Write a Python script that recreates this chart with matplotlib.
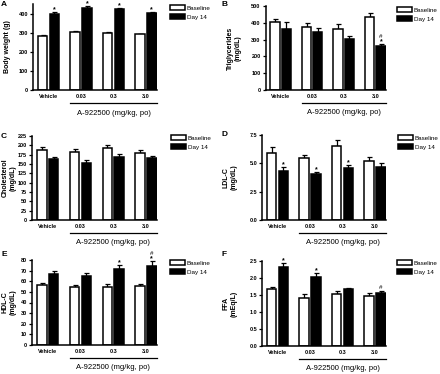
import matplotlib
matplotlib.use("Agg")
import matplotlib.pyplot as plt
import matplotlib.transforms as mtransforms
import numpy as np

plt.rcParams['font.family'] = ['Liberation Sans', 'DejaVu Sans']

groups = ["Vehicle", "0.03", "0.3", "3.0"]
series_names = ["Baseline", "Day 14"]
group_label = "A-922500 (mg/kg, po)"

# Panel A: Body weight
bw_base = [283, 302, 297, 291]
bw_base_err = [4, 5, 4, 4]
bw_d14 = [398, 430, 423, 402]
bw_d14_err = [10, 9, 7, 8]
bw_star = [True, True, True, True]
bw_hash = [False, False, False, False]

# Panel B: Triglycerides
tg_base = [407, 373, 363, 432]
tg_base_err = [15, 28, 28, 28]
tg_d14 = [362, 343, 301, 262]
tg_d14_err = [41, 24, 20, 12]
tg_star = [False, False, False, True]
tg_hash = [False, False, False, True]

# Panel C: Cholesterol
ch_base = [187, 182, 192, 180]
ch_base_err = [8, 7, 10, 7]
ch_d14 = [163, 154, 169, 165]
ch_d14_err = [6, 6, 8, 7]
ch_star = [False, False, False, False]
ch_hash = [False, False, False, False]

# Panel D: LDL-C
ldl_base = [5.94, 5.44, 6.56, 5.21]
ldl_base_err = [0.53, 0.30, 0.53, 0.32]
ldl_d14 = [4.32, 4.06, 4.56, 4.71]
ldl_d14_err = [0.35, 0.18, 0.30, 0.30]
ldl_star = [True, True, True, False]
ldl_hash = [False, False, False, False]

# Panel E: HDL-C
hdl_base = [56.1, 54.9, 54.9, 55.5]
hdl_base_err = [1.9, 1.5, 2.5, 1.9]
hdl_d14 = [66.5, 65.2, 71.5, 74.6]
hdl_d14_err = [3.1, 2.2, 3.8, 4.4]
hdl_star = [False, False, True, True]
hdl_hash = [False, False, False, True]

# Panel F: FFA
ffa_base = [1.67, 1.42, 1.52, 1.48]
ffa_base_err = [0.08, 0.12, 0.10, 0.09]
ffa_d14 = [2.32, 2.03, 1.68, 1.57]
ffa_d14_err = [0.13, 0.13, 0.02, 0.06]
ffa_star = [True, True, False, False]
ffa_hash = [False, False, False, True]

W, H = 440, 374
fig = plt.figure(figsize=(W / 100, H / 100), dpi=100)


def rect(l, t, r, b):
    return [l / W, 1 - b / H, (r - l) / W, (b - t) / H]


panels = [
    dict(letter="A", lpos=(1, 5), box=(33, 4, 157, 90), ylim=450, step=100, tickfmt="{:.0f}",
         ylabel="Body weight (g)", lab_d=25, leg=(170, 5),
         base=bw_base, base_err=bw_base_err, d14=bw_d14, d14_err=bw_d14_err, star=bw_star, hsh=bw_hash, top=400),
    dict(letter="B", lpos=(221, 5), box=(265.5, 6, 386, 90), ylim=500, step=100, tickfmt="{:.0f}",
         ylabel="Triglycerides\n(mg/dL)", lab_d=31, leg=(397, 7),
         base=tg_base, base_err=tg_base_err, d14=tg_d14, d14_err=tg_d14_err, star=tg_star, hsh=tg_hash, top=500),
    dict(letter="C", lpos=(1, 136), box=(32, 136, 157, 220), ylim=225, step=25, tickfmt="{:.0f}",
         ylabel="Cholesterol\n(mg/dL)", lab_d=23, leg=(171, 135),
         base=ch_base, base_err=ch_base_err, d14=ch_d14, d14_err=ch_d14_err, star=ch_star, hsh=ch_hash, top=225),
    dict(letter="D", lpos=(221, 135), box=(262, 135, 386, 220), ylim=7.5, step=2.5, tickfmt="{:.1f}",
         ylabel="LDL-C\n(mg/dL)", lab_d=32, leg=(398, 135),
         base=ldl_base, base_err=ldl_base_err, d14=ldl_d14, d14_err=ldl_d14_err, star=ldl_star, hsh=ldl_hash, top=7.5),
    dict(letter="E", lpos=(1, 254), box=(32, 260, 157, 345), ylim=80, step=10, tickfmt="{:.0f}",
         ylabel="HDL-C\n(mg/dL)", lab_d=22.5, leg=(170, 260),
         base=hdl_base, base_err=hdl_base_err, d14=hdl_d14, d14_err=hdl_d14_err, star=hdl_star, hsh=hdl_hash, top=80),
    dict(letter="F", lpos=(221, 254), box=(262, 261, 386, 346), ylim=2.5, step=0.5, tickfmt="{:.1f}",
         ylabel="FFA\n(mEq/L)", lab_d=32, leg=(397, 260),
         base=ffa_base, base_err=ffa_base_err, d14=ffa_d14, d14_err=ffa_d14_err, star=ffa_star, hsh=ffa_hash, top=2.5),
]

x = np.arange(len(groups))
bw = 0.29
off = 0.18

for p in panels:
    ax = fig.add_axes(rect(*p["box"]))
    axw = p["box"][2] - p["box"][0]
    b1 = ax.bar(x - off, p["base"], bw, color="white", edgecolor="black", linewidth=1.1,
                label=series_names[0], zorder=2)
    b2 = ax.bar(x + off, p["d14"], bw, color="black", edgecolor="black", linewidth=1.1,
                label=series_names[1], zorder=2)
    ax.errorbar(x - off, p["base"], yerr=[np.zeros(len(x)), p["base_err"]], fmt="none",
                ecolor="black", elinewidth=0.9, capsize=1.8, capthick=0.9, zorder=1)
    ax.errorbar(x + off, p["d14"], yerr=[np.zeros(len(x)), p["d14_err"]], fmt="none",
                ecolor="black", elinewidth=0.9, capsize=1.8, capthick=0.9, zorder=1)
    ymax = p["ylim"]
    for i in range(len(x)):
        ytop = p["d14"][i] + p["d14_err"][i]
        if p["star"][i]:
            ax.annotate("*", (x[i] + off, ytop), xytext=(0, 0.4), textcoords="offset points",
                        ha="center", va="baseline", fontsize=5, fontweight="bold", annotation_clip=False)
        if p["hsh"][i]:
            dy = 4.6 if p["star"][i] else 1.2
            ax.annotate("#", (x[i] + off, ytop), xytext=(0, dy), textcoords="offset points",
                        ha="center", va="baseline", fontsize=4.5, annotation_clip=False)
    ax.set_xlim(-0.48, 3.34)
    ax.set_ylim(0, ymax)
    ticks = np.arange(0, p["top"] + 1e-9, p["step"])
    ax.set_yticks(ticks)
    ax.set_yticklabels([p["tickfmt"].format(t) for t in ticks])
    ax.set_xticks(x)
    ax.set_xticklabels(groups)
    for s in ["top", "right"]:
        ax.spines[s].set_visible(False)
    for s in ["left", "bottom"]:
        ax.spines[s].set_linewidth(1.1)
    ax.tick_params(axis="y", length=2, width=0.9, pad=1.5, labelsize=4)
    ax.tick_params(axis="x", length=0, pad=3, labelsize=4)
    for lab in ax.get_xticklabels() + ax.get_yticklabels():
        lab.set_fontweight("bold")
    ax.text(-p["lab_d"] / axw, 0.5, p["ylabel"], transform=ax.transAxes, rotation=90,
            ha="center", va="center", fontsize=5, fontweight="bold", linespacing=1.25,
            multialignment="center")

    # group bracket and label
    trans = mtransforms.blended_transform_factory(ax.transData, ax.transAxes)
    x0 = x[1] - off - bw / 2
    x1 = x[3] + off + bw / 2
    ax.plot([x0, x1], [-0.155, -0.155], color="black", linewidth=0.9, transform=trans, clip_on=False)
    ax.text((x0 + x1) / 2, -0.27, group_label, transform=trans, ha="center", va="center", fontsize=5.5)

    # legend
    lx, ly = p["leg"]
    ax.legend(handles=[b1, b2], loc="upper left", bbox_to_anchor=(lx / W, 1 - ly / H),
              bbox_transform=fig.transFigure, frameon=False, fontsize=4.5, borderpad=0,
              handlelength=2.4, handleheight=0.85, labelspacing=0.6, handletextpad=0.3,
              borderaxespad=0)

    fig.text(p["lpos"][0] / W, 1 - p["lpos"][1] / H, p["letter"], fontsize=6, fontweight="bold",
             ha="left", va="center")

fig.savefig("out.png", dpi=100)
